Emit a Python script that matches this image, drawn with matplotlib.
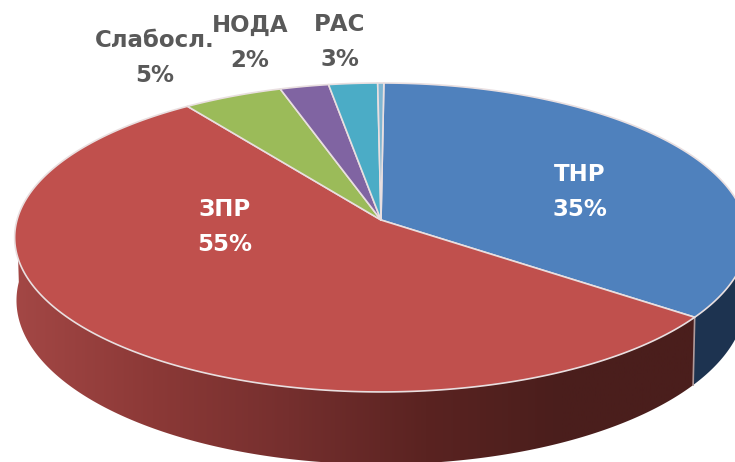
import numpy as np
import matplotlib
matplotlib.use("Agg")
import matplotlib.pyplot as plt
from matplotlib.colors import LinearSegmentedColormap
from matplotlib.patches import Polygon

labels = ["ТНР", "ЗПР", "Слабосл.", "НОДА", "РАС", ""]
percent_labels = ["35%", "55%", "5%", "2%", "3%", ""]
values = [35.0, 55.0, 4.9, 2.4, 2.4, 0.3]
colors = ["#4f81bd", "#c0504d", "#9bbb59", "#8064a2", "#4bacc6", "#7fb6d2"]

W, H = 735, 462
CX, CY = 381.0, 220.0
A, C, K = 152.5, 364.0, 0.113
DY, SX, SY = 62.0, 0.995, 1.06
START = 0.5


def project(deg, dy=0.0, sx=1.0, sy=1.0):
    th = np.radians(deg)
    u, v = np.sin(th), np.cos(th)
    d = 1 + K * v
    return CX + sx * C * u / d, CY + dy - sy * A * v / d


def rim(a0, a1, **kw):
    t = np.linspace(a0, a1, max(int(abs(a1 - a0) * 2), 2))
    return np.column_stack(project(t, **kw))


LOWER = dict(dy=DY, sx=SX, sy=SY)

fig = plt.figure(figsize=(W / 100, H / 100), dpi=100)
ax = fig.add_axes([0, 0, 1, 1])
ax.axis("off")

total = sum(values)
edges = START + np.cumsum([0] + values) / total * 360

# side walls
wall_red = LinearSegmentedColormap.from_list(
    "wall", ["#a34745", "#8c3937", "#752f2e", "#5a2321", "#4a1e1c", "#4a1e1c"])
grad = np.linspace(0, 1, 256)[None, :]
for i in range(2):
    a0 = max(edges[i], 90)
    a1 = min(edges[i + 1], 270)
    pts = np.vstack([rim(a0, a1), rim(a1, a0, **LOWER)])
    if i == 0:
        ax.add_patch(Polygon(pts, closed=True, fc="#1d3350", ec="none", zorder=1))
    else:
        im = ax.imshow(grad, cmap=wall_red, aspect="auto",
                       extent=(15, 700, H, 0), zorder=1)
        clip = Polygon(pts, closed=True, transform=ax.transData, fc="none", ec="none")
        ax.add_patch(clip)
        im.set_clip_path(clip)

# light seam between the two visible walls
sx, sy = project(edges[1])
bx, by = project(edges[1], **LOWER)
ax.plot([sx, bx], [sy, by], color="#b09a9a", lw=1.2, zorder=2)

# top face
for i, col in enumerate(colors):
    pts = np.vstack([[CX, CY], rim(edges[i], edges[i + 1])])
    ax.add_patch(Polygon(pts, closed=True, fc=col, ec="#e9dfe0", lw=1.2,
                         joinstyle="round", zorder=3))

# labels
texts = [
    (0, 580, 192, "white"),
    (1, 225, 227, "white"),
    (2, 155, 58, "#595959"),
    (3, 250, 43, "#595959"),
    (4, 340, 42, "#595959"),
]
for idx, x, y, col in texts:
    ax.text(x, y, f"{labels[idx]}\n{percent_labels[idx]}", color=col, ha="center",
            va="center", fontsize=16.5, fontweight="bold", family="DejaVu Sans",
            linespacing=1.65, zorder=5)

ax.set_xlim(0, W)
ax.set_ylim(H, 0)
fig.savefig("out.png", dpi=100)
